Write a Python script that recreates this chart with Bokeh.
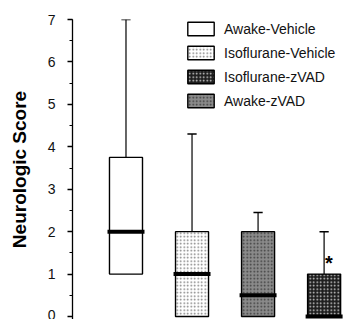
from bokeh.plotting import figure
from bokeh.models import Range1d, SingleIntervalTicker, Legend, LegendItem, ColumnDataSource
from bokeh.embed import file_html
from bokeh.resources import INLINE
from bokeh.core.properties import value

# data (plot order, left to right)
groups = ["Awake-Vehicle", "Isoflurane-Vehicle", "Awake-zVAD", "Isoflurane-zVAD"]
positions = [1, 2, 3, 4]
q1 = [1.0, 0.0, 0.0, 0.0]
q3 = [3.75, 2.0, 2.0, 1.0]
median = [2.0, 1.0, 0.5, 0.0]
whisker_high = [7.0, 4.3, 2.45, 2.0]
legend_order = ["Awake-Vehicle", "Isoflurane-Vehicle", "Isoflurane-zVAD", "Awake-zVAD"]
significant = ["Isoflurane-zVAD"]

styles = {
    "Awake-Vehicle": dict(fill_color="white", hatch_pattern=None, hatch_color="white"),
    "Isoflurane-Vehicle": dict(fill_color="white", hatch_pattern="dot", hatch_color="#7a7a7a"),
    "Awake-zVAD": dict(fill_color="#8a8a8a", hatch_pattern="dot", hatch_color="#3a3a3a"),
    "Isoflurane-zVAD": dict(fill_color="#1e1e1e", hatch_pattern="dot", hatch_color="#d8d8d8"),
}

FONT = "Liberation Sans"

p = figure(width=352, height=319, output_backend="svg", toolbar_location=None,
           x_range=Range1d(0.19, 4.43), y_range=Range1d(-0.07, 7.0),
           min_border_left=72, min_border_right=0, min_border_top=19, min_border_bottom=0)
p.outline_line_color = None
p.xgrid.visible = False
p.ygrid.visible = False
p.xaxis.visible = False
p.background_fill_color = "white"
p.border_fill_color = "white"

ax = p.yaxis[0]
ax.ticker = SingleIntervalTicker(interval=1, num_minor_ticks=2)
ax.major_tick_in = 0
ax.major_tick_out = 5
ax.minor_tick_in = 0
ax.minor_tick_out = 3
ax.axis_line_width = 1.3
ax.major_tick_line_width = 1.3
ax.minor_tick_line_width = 1.1
ax.major_label_text_font = FONT
ax.major_label_text_font_size = "14px"
ax.major_label_text_color = "#111"
ax.major_label_standoff = 12
ax.axis_label = "Neurologic Score"
ax.axis_label_text_font = FONT
ax.axis_label_text_font_style = "bold"
ax.axis_label_text_font_size = "19px"
ax.axis_label_text_color = "black"
ax.axis_label_standoff = 15

renderers = {}
for i, g in enumerate(groups):
    st = styles[g]
    src = ColumnDataSource(dict(x=[positions[i]], top=[q3[i]], bottom=[q1[i]],
                                hi=[whisker_high[i]], med=[median[i]]))
    # whisker
    p.segment(x0="x", y0="top", x1="x", y1="hi", source=src, line_color="black", line_width=1.2)
    p.segment(x0=positions[i] - 0.07, y0=whisker_high[i], x1=positions[i] + 0.07, y1=whisker_high[i],
              line_color="black", line_width=1.5)
    kw = dict(fill_color=st["fill_color"], hatch_color=st["hatch_color"])
    if st["hatch_pattern"]:
        kw.update(hatch_pattern=st["hatch_pattern"], hatch_scale=3.5, hatch_weight=1.5)
    r = p.vbar(x="x", top="top", bottom="bottom", width=0.5, source=src,
               line_color="black", line_width=1.4, **kw)
    renderers[g] = r
    # median
    p.segment(x0=positions[i] - 0.28, y0=median[i], x1=positions[i] + 0.28, y1=median[i],
              line_color="black", line_width=4)

for g in significant:
    i = groups.index(g)
    p.text(x=[positions[i]], y=[(median[i] + whisker_high[i]) / 2 + 0.25], text=["*"],
           x_offset=1, text_font=value(FONT), text_font_size="20px", text_font_style="bold",
           text_align="left", text_baseline="middle", text_color="black")

legend = Legend(items=[LegendItem(label=g, renderers=[renderers[g]]) for g in legend_order],
                location=(112, 210), orientation="vertical",
                glyph_width=33, glyph_height=17, spacing=7, padding=0, margin=0,
                label_standoff=7, label_text_font=FONT, label_text_font_size="14px",
                label_text_color="#111", border_line_color=None, background_fill_alpha=0)
p.add_layout(legend)

open("out.html", "w").write(file_html(p, INLINE))
